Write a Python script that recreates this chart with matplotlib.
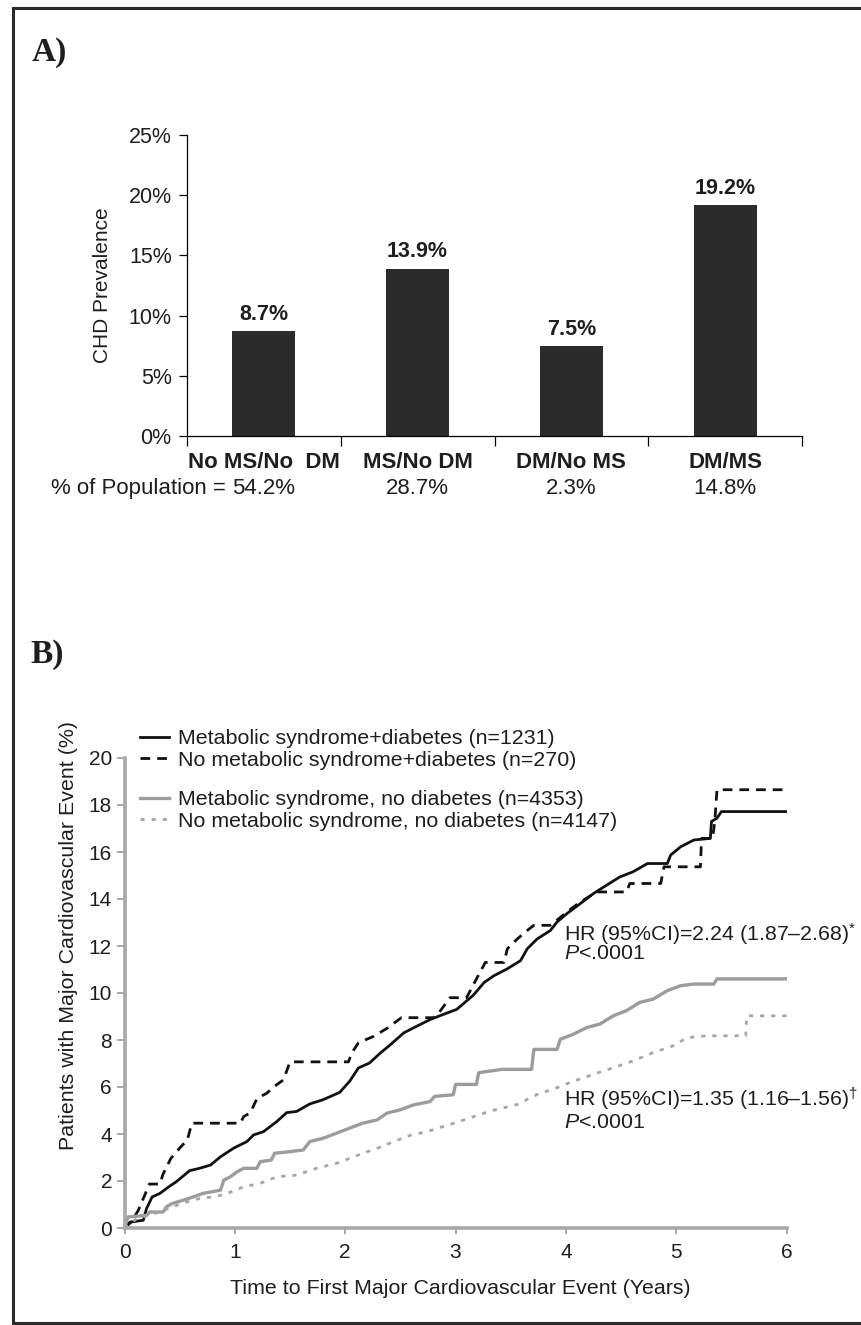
import matplotlib
matplotlib.use("Agg")
import matplotlib.pyplot as plt
from matplotlib.lines import Line2D

plt.rcParams['font.family'] = ['Liberation Sans', 'DejaVu Sans']
plt.rcParams['mathtext.fontset'] = 'custom'
plt.rcParams['mathtext.rm'] = 'Liberation Sans'
plt.rcParams['mathtext.it'] = 'Liberation Sans:italic'

# ---- panel A data ----
groups = ["No MS/No  DM", "MS/No DM", "DM/No MS", "DM/MS"]
chd_prev = [8.7, 13.9, 7.5, 19.2]
pop_share = ["54.2%", "28.7%", "2.3%", "14.8%"]
a_yticks = [0, 5, 10, 15, 20, 25]

# ---- panel B data ----
t_ms_dm = [0, .05, .17, .2, .25, .32, .4, .47, .59, .68,
           .78, .87, .99, 1.11, 1.17, 1.26, 1.38, 1.47, 1.56, 1.68,
           1.8, 1.95, 2.04, 2.12, 2.22, 2.32, 2.41, 2.53, 2.65, 2.77,
           2.89, 3.01, 3.16, 3.26, 3.35, 3.47, 3.59, 3.65, 3.74, 3.86,
           3.92, 4.01, 4.13, 4.25, 4.37, 4.49, 4.61, 4.74, 4.92, 4.95,
           5.04, 5.16, 5.31, 5.32, 5.37, 5.41, 6.0]
y_ms_dm = [0, .25, .33, .83, 1.32, 1.47, 1.75, 1.97, 2.44, 2.54,
           2.68, 3.03, 3.4, 3.68, 3.96, 4.1, 4.53, 4.91, 4.96, 5.28,
           5.46, 5.77, 6.24, 6.81, 7.02, 7.45, 7.8, 8.3, 8.59, 8.87,
           9.09, 9.3, 9.9, 10.45, 10.74, 11.03, 11.38, 11.88, 12.3, 12.66,
           13.02, 13.38, 13.8, 14.23, 14.59, 14.94, 15.16, 15.51, 15.51, 15.87,
           16.22, 16.51, 16.58, 17.3, 17.44, 17.72, 17.72]

t_nms_dm = [0, .06, .125, .19, .225, .32, .35, .42, .5, .57,
            .61, 1.05, 1.08, 1.14, 1.2, 1.29, 1.38, 1.44, 1.5, 2.03,
            2.06, 2.12, 2.26, 2.38, 2.51, 2.8, 2.84, 2.95, 3.1, 3.19,
            3.27, 3.44, 3.47, 3.56, 3.65, 3.71, 3.86, 3.92, 4.01, 4.13,
            4.28, 4.55, 4.58, 4.86, 4.89, 5.22, 5.23, 5.33, 5.35, 5.37,
            6.0]
y_nms_dm = [0, .25, .75, 1.47, 1.87, 1.87, 2.3, 2.96, 3.4, 3.75,
            4.46, 4.46, 4.74, 4.9, 5.5, 5.74, 6.1, 6.3, 7.07, 7.07,
            7.45, 7.88, 8.16, 8.5, 8.95, 8.95, 9.1, 9.8, 9.8, 10.6,
            11.3, 11.3, 11.88, 12.3, 12.66, 12.88, 12.88, 13.1, 13.45, 13.87,
            14.3, 14.3, 14.66, 14.66, 15.37, 15.37, 16.58, 16.58, 17.3, 18.65,
            18.65]

t_ms = [0, .03, .2, .23, .35, .38, .43, .53, .62, .71,
        .87, .9, .96, 1.02, 1.08, 1.2, 1.23, 1.33, 1.36, 1.5,
        1.62, 1.68, 1.8, 1.92, 2.04, 2.16, 2.29, 2.38, 2.5, 2.62,
        2.77, 2.81, 2.98, 3.0, 3.19, 3.21, 3.42, 3.69, 3.71, 3.92,
        3.95, 4.07, 4.19, 4.31, 4.43, 4.55, 4.67, 4.79, 4.92, 5.04,
        5.16, 5.34, 5.37, 6.0]
y_ms = [0, .47, .54, .68, .68, .9, 1.04, 1.18, 1.32, 1.47,
        1.61, 2.04, 2.18, 2.39, 2.54, 2.54, 2.82, 2.89, 3.18, 3.25,
        3.32, 3.68, 3.82, 4.03, 4.25, 4.46, 4.6, 4.89, 5.03, 5.24,
        5.38, 5.6, 5.67, 6.11, 6.11, 6.61, 6.75, 6.75, 7.6, 7.6,
        8.03, 8.25, 8.53, 8.68, 9.03, 9.25, 9.6, 9.74, 10.1, 10.31,
        10.38, 10.38, 10.6, 10.6]

t_none = [0, .11, .23, .4, .53, .68, .84, .93, 1.08, 1.23,
          1.38, 1.56, 1.74, 1.92, 2.04, 2.16, 2.29, 2.44, 2.6, 2.74,
          2.89, 3.04, 3.31, 3.56, 3.74, 3.92, 4.07, 4.25, 4.43, 4.61,
          4.79, 4.97, 5.1, 5.28, 5.63, 5.64, 6.0]
y_none = [0, .4, .54, .83, 1.07, 1.25, 1.35, 1.47, 1.75, 1.9,
          2.18, 2.25, 2.54, 2.75, 2.96, 3.18, 3.39, 3.68, 3.96, 4.1,
          4.32, 4.54, 4.97, 5.26, 5.68, 5.97, 6.25, 6.54, 6.82, 7.11,
          7.46, 7.75, 8.1, 8.18, 8.18, 9.03, 9.03]

labels_b = ["Metabolic syndrome+diabetes (n=1231)",
            "No metabolic syndrome+diabetes (n=270)",
            "Metabolic syndrome, no diabetes (n=4353)",
            "No metabolic syndrome, no diabetes (n=4147)"]
b_xticks = [0, 1, 2, 3, 4, 5, 6]
b_yticks = [0, 2, 4, 6, 8, 10, 12, 14, 16, 18, 20]

W, H = 861, 1325
txt = '#1e1e1e'
fig = plt.figure(figsize=(W / 100, H / 100), dpi=100)

# outer frame (top, left, bottom)
for xs, ys in [([13, W], [8, 8]), ([13, 13], [8, 1323]), ([13, W], [1323, 1323])]:
    fig.add_artist(Line2D([x / W for x in xs], [1 - y / H for y in ys],
                          transform=fig.transFigure, color='#2a2a2a', lw=2.2))

fig.text(49 / W, 1 - 53 / H, "A)", family='Liberation Serif', weight='bold',
         fontsize=24, ha='center', va='center', color=txt)
fig.text(47 / W, 1 - 655 / H, "B)", family='Liberation Serif', weight='bold',
         fontsize=24, ha='center', va='center', color=txt)

# ---------------- panel A ----------------
axA = fig.add_axes([187 / W, 1 - 436 / H, 615 / W, 301 / H])
x = range(len(groups))
bars = axA.bar(x, chd_prev, width=0.41, color='#2b2b2b')
for b, v in zip(bars, chd_prev):
    axA.annotate(f"{v}%", (b.get_x() + b.get_width() / 2, v), xytext=(0, 12),
                 textcoords='offset points', ha='center', va='center',
                 fontsize=15.5, weight='bold', color=txt)
axA.set_xlim(-0.5, len(groups) - 0.5)
axA.set_ylim(0, 25)
axA.set_yticks(a_yticks)
axA.set_yticklabels([f"{v}%" for v in a_yticks])
axA.set_xticks([i - 0.5 for i in range(len(groups) + 1)])
axA.set_xticklabels([])
axA.tick_params(axis='y', length=6, width=0.9, pad=5, labelsize=15.5, labelcolor=txt)
axA.tick_params(axis='x', length=7, width=0.9)
for s in ['top', 'right']:
    axA.spines[s].set_visible(False)
for s in ['left', 'bottom']:
    axA.spines[s].set_linewidth(0.9)
axA.set_ylabel("CHD Prevalence", fontsize=15, color=txt)
axA.yaxis.set_label_coords(-0.122, 0.5)

for i, (g, p) in enumerate(zip(groups, pop_share)):
    axA.text(i, -0.0864, g, transform=axA.get_xaxis_transform(), ha='center',
             va='center', fontsize=16, weight='bold', color=txt)
    t = axA.text(i, -0.1728, p, transform=axA.get_xaxis_transform(), ha='center',
                 va='center', fontsize=16, color=txt)
    if i == 0:
        axA.annotate("% of Population = ", xy=(0, 0.5), xycoords=t, ha='right',
                     va='center', fontsize=16, color=txt)

# ---------------- panel B ----------------
axB = fig.add_axes([124.5 / W, 1 - 1228 / H, 662 / W, 470 / H])
l1, = axB.plot(t_ms_dm, y_ms_dm, color='#111111', lw=2.0)
l2, = axB.plot(t_nms_dm, y_nms_dm, color='#111111', lw=2.0, dashes=(3.5, 2.5))
l3, = axB.plot(t_ms, y_ms, color='#9c9c9c', lw=2.4)
l4, = axB.plot(t_none, y_none, color='#a6a6a6', lw=2.0, dashes=(1.5, 2.5))
axB.set_xlim(0, 6)
axB.set_ylim(0, 20)
axB.set_xticks(b_xticks)
axB.set_yticks(b_yticks)
axB.tick_params(axis='both', color='#9a9a9a', labelsize=15, labelcolor=txt)
axB.tick_params(axis='x', length=4, width=1.2, pad=7)
axB.tick_params(axis='y', length=6, width=1.2, pad=3)
for s in ['top', 'right']:
    axB.spines[s].set_visible(False)
for s in ['left', 'bottom']:
    axB.spines[s].set_color('#a8a8a8')
    axB.spines[s].set_linewidth(2.6)
axB.set_xlabel("Time to First Major Cardiovascular Event (Years)", fontsize=15.4, color=txt)
axB.xaxis.set_label_coords(0.507, -0.109)
axB.set_ylabel("Patients with Major Cardiovascular Event (%)", fontsize=15.4, color=txt)
axB.yaxis.set_label_coords(-0.070, 0.623)

leg_kw = dict(loc='upper left', frameon=False, borderpad=0, borderaxespad=0,
              handlelength=1.35, handletextpad=0.45, labelspacing=0.12,
              fontsize=15.4, bbox_transform=fig.transFigure)
leg1 = axB.legend([l1, l2], labels_b[:2], bbox_to_anchor=(140 / W, 1 - 729 / H), **leg_kw)
axB.add_artist(leg1)
axB.legend([l3, l4], labels_b[2:], bbox_to_anchor=(140 / W, 1 - 790 / H), **leg_kw)
for lg in axB.get_legend(), leg1:
    for tx in lg.get_texts():
        tx.set_color(txt)

axB.text(3.985, 12.52, "HR (95%CI)=2.24 (1.87\u20132.68)$^{*}$", fontsize=15.4,
         va='center', ha='left', color=txt)
axB.text(3.985, 11.67, "$\\mathit{P}$<.0001", fontsize=15.4, va='center', ha='left', color=txt)
axB.text(3.985, 5.47, "HR (95%CI)=1.35 (1.16\u20131.56)$^{\\dagger}$", fontsize=15.4,
         va='center', ha='left', color=txt)
axB.text(3.985, 4.49, "$\\mathit{P}$<.0001", fontsize=15.4, va='center', ha='left', color=txt)

fig.savefig("out.png", dpi=100, facecolor='white')
